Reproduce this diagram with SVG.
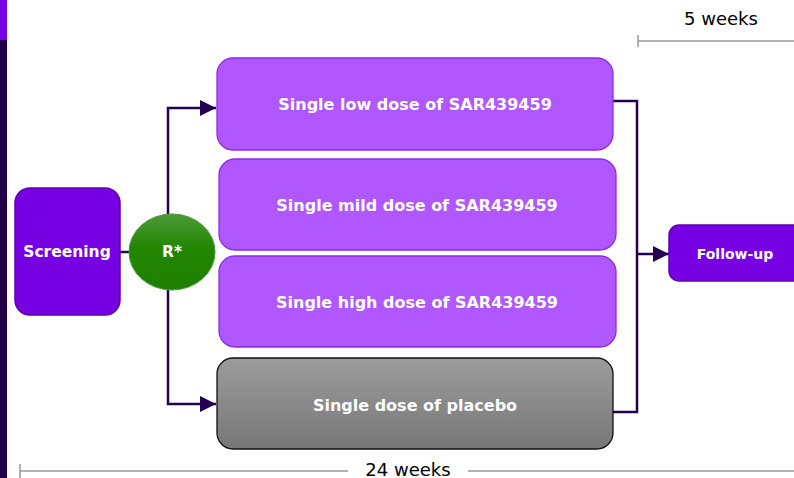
<svg xmlns="http://www.w3.org/2000/svg" width="794" height="478" viewBox="0 0 794 478">
<style>
.lbl{font-family:"DejaVu Sans","Verdana",sans-serif;font-weight:bold;fill:#ffffff;text-anchor:middle;dominant-baseline:central}
.dim{font-family:"DejaVu Sans","Verdana",sans-serif;fill:#000000;font-size:18px;text-anchor:middle}
.arm{fill:#b057ff;stroke:#8b2be8;stroke-width:1.3}
.solid{fill:#7700e3;stroke:#5e00b0;stroke-width:1.5}
.conn{fill:none;stroke:#230052;stroke-width:2.5}
.ruler{fill:none;stroke:#999999;stroke-width:1.5}
</style>
<defs>
<linearGradient id="gGreen" x1="0" y1="0" x2="0" y2="1">
<stop offset="0" stop-color="#4d9a3a"/>
<stop offset="0.45" stop-color="#228600"/>
<stop offset="1" stop-color="#1e7f00"/>
</linearGradient>
<linearGradient id="gGrey" x1="0" y1="0" x2="0" y2="1">
<stop offset="0" stop-color="#9c9c9c"/>
<stop offset="1" stop-color="#777777"/>
</linearGradient>
<marker id="arrB" viewBox="0 0 16 16" refX="16" refY="8" markerWidth="16" markerHeight="16" markerUnits="userSpaceOnUse" orient="auto">
<path d="M0,0 L16,8 L0,16 z" fill="#230052"/>
</marker>
</defs>
<rect x="0" y="0" width="794" height="478" fill="#ffffff"/>
<rect x="0" y="0" width="7" height="40" fill="#7700e3"/>
<rect x="0" y="40" width="7" height="438" fill="#22004a"/>

<g id="rulers">
<path class="ruler" d="M638,41 H794 M638,35 V47"/>
<text class="dim" x="721" y="25">5 weeks</text>
<path class="ruler" d="M20,471 H348 M468,471 H794 M20,464 V478"/>
<text class="dim" x="408" y="476">24 weeks</text>
</g>

<g id="connectors">
<path class="conn" d="M120,252 H130" stroke-width="1.5"/>
<path class="conn" d="M168,214 V108 H216" marker-end="url(#arrB)"/>
<path class="conn" d="M168,290 V404 H216" marker-end="url(#arrB)"/>
<path class="conn" d="M613,101 H637 V412 H613"/>
<path class="conn" d="M637,254 H669" marker-end="url(#arrB)"/>
</g>

<g id="screening">
<rect class="solid" x="15" y="188" width="105" height="127" rx="15"/>
<text class="lbl" x="67" y="252" font-size="15.5">Screening</text>
</g>
<g id="randomization">
<ellipse cx="172" cy="252" rx="43" ry="38" fill="url(#gGreen)" stroke="#3f9a2a" stroke-width="1"/>
<text class="lbl" x="172" y="252" font-size="15.5">R*</text>
</g>
<g id="low">
<rect class="arm" x="217" y="58" width="396" height="92" rx="16"/>
<text class="lbl" x="415" y="104" font-size="16">Single low dose of SAR439459</text>
</g>
<g id="mild">
<rect class="arm" x="219" y="159" width="397" height="91" rx="16"/>
<text class="lbl" x="417" y="205" font-size="16">Single mild dose of SAR439459</text>
</g>
<g id="high">
<rect class="arm" x="219" y="256" width="397" height="91" rx="16"/>
<text class="lbl" x="417" y="302" font-size="16">Single high dose of SAR439459</text>
</g>
<g id="placebo">
<rect x="217" y="358" width="396" height="91" rx="16" fill="url(#gGrey)" stroke="#111111" stroke-width="1.3"/>
<text class="lbl" x="415" y="405" font-size="16">Single dose of placebo</text>
</g>
<g id="followup">
<rect class="solid" x="669" y="225" width="140" height="56" rx="10" stroke="none"/>
<text class="lbl" x="735" y="254" font-size="14">Follow-up</text>
</g>
</svg>
